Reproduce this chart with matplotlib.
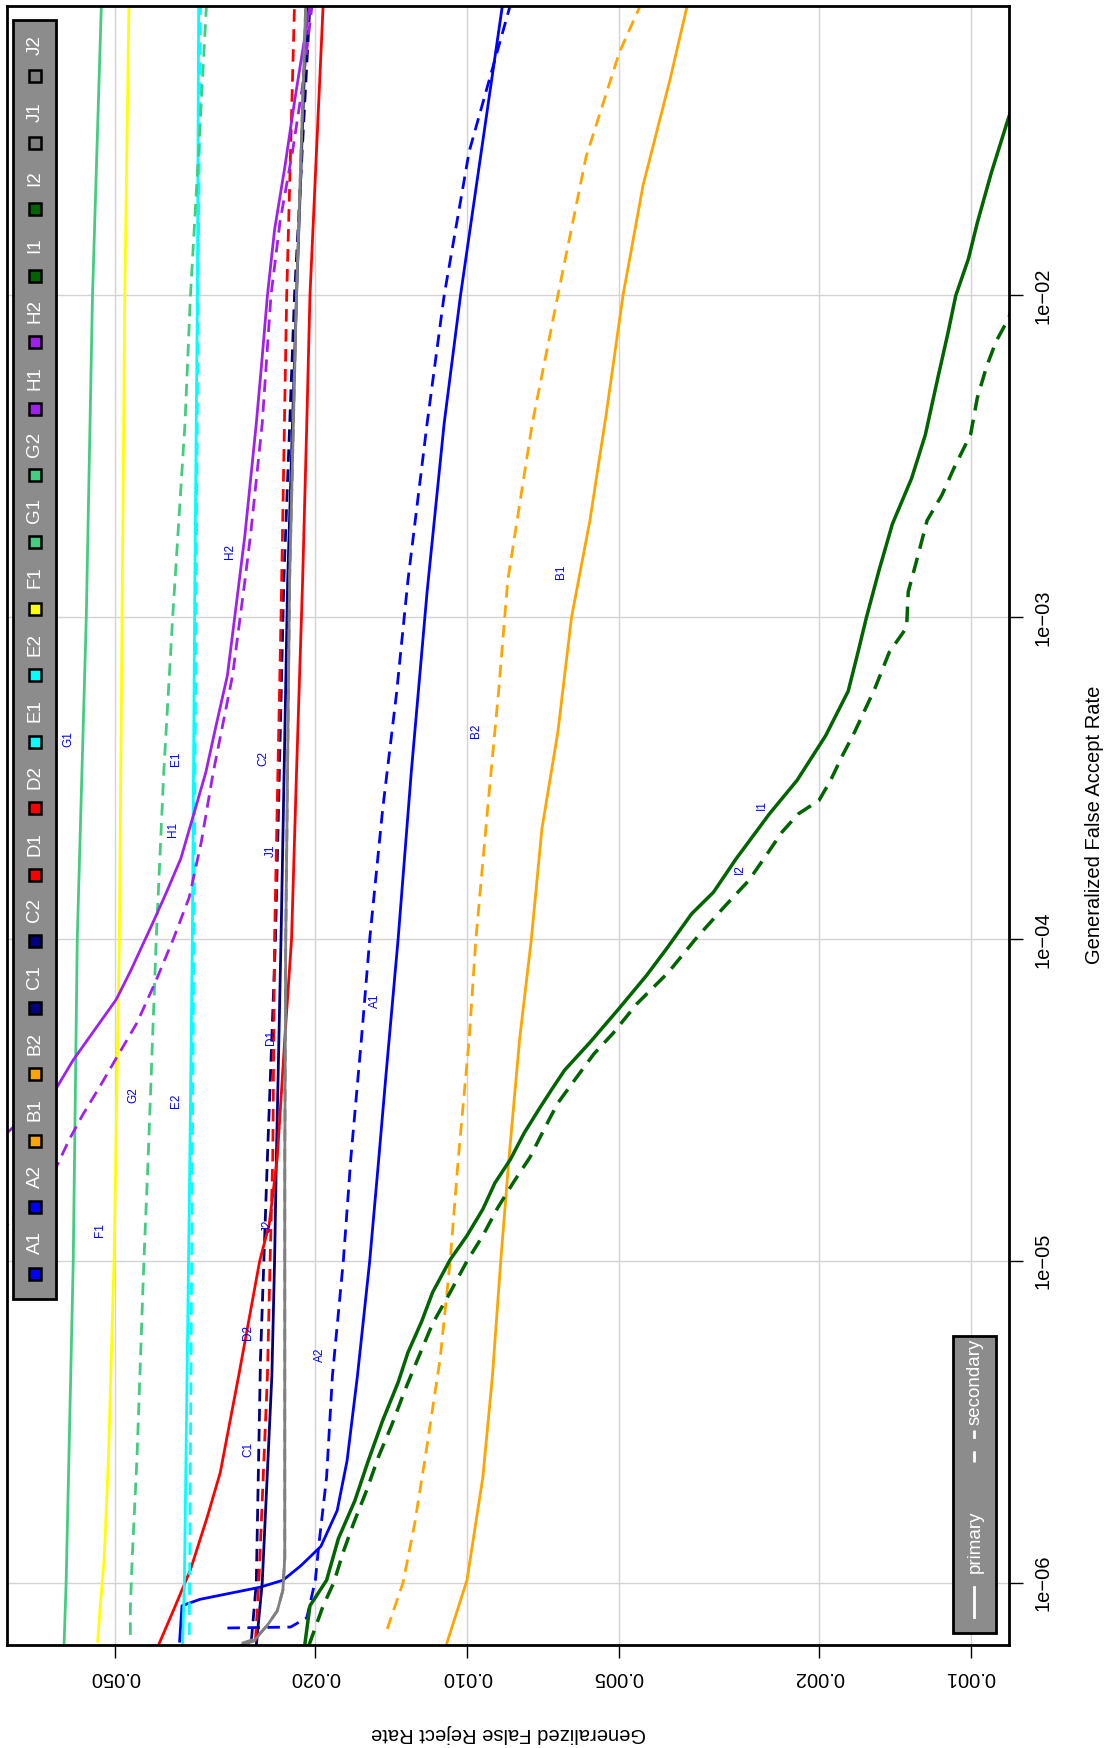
import matplotlib
matplotlib.use("Agg")
import matplotlib.pyplot as plt
from matplotlib.patches import Rectangle
from matplotlib.lines import Line2D
from matplotlib.ticker import NullLocator

plt.rcParams['font.family'] = ['Liberation Sans', 'DejaVu Sans']

# DET curves: false accept rate (far) vs false reject rate (frr)
a1_far = [6.6e-7, 8.5e-7, 8.9e-7, 9.7e-7, 1.02e-6, 1.13e-6, 1.3e-6, 1.68e-6, 2.4e-6, 4.4e-6, 1e-5, 2e-5, 3.7e-5, 1e-4, 3.3e-4, 1.2e-3, 4e-3, 1e-2, 0.08]
a1_frr = [0.0372, 0.0368, 0.0339, 0.0258, 0.0232, 0.0214, 0.0195, 0.0181, 0.0173, 0.0165, 0.0156, 0.0150, 0.0145, 0.0137, 0.0129, 0.0120, 0.0111, 0.0103, 0.0085]
a2_far = [7.25e-7, 7.3e-7, 7.8e-7, 1.02e-6, 1.3e-6, 2.13e-6, 4.4e-6, 1e-5, 2.1e-5, 4.9e-5, 1e-4, 2.54e-4, 5.8e-4, 1.3e-3, 4e-3, 1e-2, 0.028, 0.08]
a2_frr = [0.0299, 0.0224, 0.0208, 0.0200, 0.0197, 0.0190, 0.0185, 0.0176, 0.0170, 0.0162, 0.0156, 0.0147, 0.0138, 0.0131, 0.0120, 0.0111, 0.0099, 0.0082]
b1_far = [6.4e-7, 1.02e-6, 2.13e-6, 4.4e-6, 1e-5, 2.1e-5, 4.9e-5, 1e-4, 2.2e-4, 4.4e-4, 1e-3, 2e-3, 4.2e-3, 1e-2, 2.2e-2, 4.7e-2, 0.08]
b1_frr = [0.0110, 0.0100, 0.0093, 0.0089, 0.00857, 0.00825, 0.00786, 0.00745, 0.0071, 0.0066, 0.0062, 0.0057, 0.0053, 0.0049, 0.00447, 0.00395, 0.00365]
b2_far = [7.2e-7, 1e-6, 1.53e-6, 2.46e-6, 5e-6, 1e-5, 2.1e-5, 4.9e-5, 1e-4, 2.54e-4, 5.8e-4, 1.3e-3, 4e-3, 1e-2, 2.7e-2, 5.7e-2, 0.08]
b2_frr = [0.0144, 0.0134, 0.0127, 0.0121, 0.0113, 0.0108, 0.0104, 0.0099, 0.0096, 0.0091, 0.00866, 0.0083, 0.00742, 0.0066, 0.0058, 0.00498, 0.00452]
c1_far = [6.4e-7, 1e-6, 4.4e-6, 1e-5, 2.1e-5, 1e-4, 1.3e-3, 1e-2, 0.08]
c1_frr = [0.0262, 0.0255, 0.0244, 0.0241, 0.0239, 0.0234, 0.0227, 0.0218, 0.0208]
c2_far = [6.6e-7, 1e-6, 5e-6, 2.1e-5, 1e-4, 1.3e-3, 1e-2, 0.08]
c2_frr = [0.0268, 0.0262, 0.0257, 0.0249, 0.0240, 0.0231, 0.0220, 0.0205]
d1_far = [6.4e-7, 8.2e-7, 1.1e-6, 1.6e-6, 2.2e-6, 4.4e-6, 1e-5, 1.3e-5, 2.1e-5, 4.9e-5, 1e-4, 3.3e-4, 1.3e-3, 4e-3, 1e-2, 0.08]
d1_frr = [0.0410, 0.0383, 0.0354, 0.0328, 0.0309, 0.0284, 0.0258, 0.0247, 0.0238, 0.0230, 0.0223, 0.0218, 0.0212, 0.0208, 0.0205, 0.0193]
d2_far = [6.6e-7, 1e-6, 4.4e-6, 1e-5, 2.1e-5, 1e-4, 1e-3, 1e-2, 0.08]
d2_frr = [0.0263, 0.0259, 0.0249, 0.0246, 0.0243, 0.0241, 0.0234, 0.0228, 0.0220]
e1_far = [6.4e-7, 1e-6, 2.1e-5, 1e-4, 1.3e-3, 1e-2, 0.08]
e1_frr = [0.0367, 0.0364, 0.0355, 0.0351, 0.0347, 0.0343, 0.0341]
e2_far = [6.9e-7, 2.1e-5, 1e-3, 1e-2, 0.08]
e2_frr = [0.0356, 0.0351, 0.0345, 0.0342, 0.0338]
f1_far = [6.6e-7, 8.4e-7, 1.2e-6, 2.46e-6, 1e-5, 1e-4, 1e-3, 1e-2, 0.08]
f1_frr = [0.0541, 0.0535, 0.0525, 0.0515, 0.0502, 0.0490, 0.0484, 0.0478, 0.0469]
g1_far = [6.4e-7, 1e-6, 1e-5, 1e-4, 1e-3, 1e-2, 0.08]
g1_frr = [0.0631, 0.0625, 0.0605, 0.0594, 0.0570, 0.0554, 0.0532]
g2_far = [6.9e-7, 8.4e-7, 1.2e-6, 2.46e-6, 1e-5, 2e-5, 1e-4, 3.3e-4, 1e-3, 4e-3, 1e-2, 2.8e-2, 0.08]
g2_frr = [0.0466, 0.0466, 0.0462, 0.0452, 0.0438, 0.0430, 0.0414, 0.0400, 0.0384, 0.0363, 0.0354, 0.0341, 0.0329]
h1_far = [2.2e-5, 2.5e-5, 3.4e-5, 4.2e-5, 5e-5, 6.5e-5, 8e-5, 1.12e-4, 1.4e-4, 1.78e-4, 2.4e-4, 3.3e-4, 4.6e-4, 6.6e-4, 1.1e-3, 1.8e-3, 4e-3, 6e-3, 1e-2, 1.6e-2, 2.5e-2, 4e-2, 0.08]
h1_frr = [0.092, 0.082, 0.0657, 0.0606, 0.0560, 0.0497, 0.0465, 0.0421, 0.0395, 0.0370, 0.0350, 0.0330, 0.0315, 0.0299, 0.0287, 0.0276, 0.0262, 0.0256, 0.0249, 0.0241, 0.0230, 0.0220, 0.0205]
h2_far = [1.1e-5, 1.3e-5, 1.6e-5, 1.9e-5, 2.4e-5, 2.84e-5, 3.5e-5, 4.27e-5, 5.5e-5, 7.4e-5, 1e-4, 1.35e-4, 2e-4, 3.3e-4, 6.6e-4, 1.3e-3, 1.8e-3, 4e-3, 1e-2, 1.7e-2, 2.8e-2, 4.5e-2, 0.08]
h2_frr = [0.092, 0.0816, 0.0730, 0.0660, 0.0615, 0.0580, 0.0535, 0.0497, 0.0452, 0.0415, 0.0383, 0.0356, 0.0337, 0.0319, 0.0292, 0.0276, 0.0269, 0.0255, 0.0245, 0.0235, 0.0222, 0.0212, 0.0203]
i1_far = [6.4e-7, 8.5e-7, 1.02e-6, 1.375e-6, 1.8e-6, 2.4e-6, 3.2e-6, 4.2e-6, 5.2e-6, 6.5e-6, 8e-6, 1.01e-5, 1.2e-5, 1.45e-5, 1.75e-5, 2.07e-5, 2.5e-5, 2.96e-5, 3.4e-5, 3.92e-5, 4.78e-5, 6.07e-5, 7.72e-5, 9.42e-5, 1.2e-4, 1.4e-4, 1.78e-4, 2.1e-4, 2.45e-4, 3.12e-4, 4.29e-4, 5.9e-4, 7.6e-4, 1e-3, 1.4e-3, 1.95e-3, 2.7e-3, 3.69e-3, 5.6e-3, 7.6e-3, 1e-2, 1.3e-2, 1.68e-2, 2.4e-2, 3.58e-2, 0.08]
i1_frr = [0.0210, 0.0205, 0.0190, 0.0180, 0.0167, 0.0157, 0.0147, 0.0137, 0.0131, 0.0123, 0.0117, 0.0108, 0.0100, 0.0093, 0.0088, 0.0082, 0.0077, 0.0072, 0.0068, 0.0064, 0.0057, 0.0050, 0.0044, 0.0040, 0.00358, 0.00324, 0.00292, 0.0027, 0.00251, 0.00221, 0.00194, 0.00175, 0.00168, 0.00161, 0.00152, 0.00143, 0.00131, 0.00123, 0.00116, 0.00111, 0.00107, 0.00101, 0.00097, 0.00091, 0.00084, 0.00070]
i2_far = [6.4e-7, 8.5e-7, 1e-6, 1.25e-6, 1.53e-6, 1.95e-6, 2.46e-6, 3.1e-6, 3.95e-6, 5e-6, 6.4e-6, 8e-6, 1e-5, 1.2e-5, 1.46e-5, 1.75e-5, 2.1e-5, 2.6e-5, 3.1e-5, 3.8e-5, 4.4e-5, 5.1e-5, 6.3e-5, 7.9e-5, 1e-4, 1.25e-4, 1.52e-4, 1.8e-4, 2.15e-4, 2.45e-4, 2.7e-4, 3.1e-4, 3.7e-4, 4.4e-4, 6e-4, 7.8e-4, 9.3e-4, 1.2e-3, 1.5e-3, 2e-3, 2.4e-3, 2.9e-3, 3.7e-3, 4.8e-3, 6e-3, 7.2e-3, 8.5e-3, 0.02]
i2_frr = [0.0206, 0.0193, 0.0184, 0.0176, 0.0168, 0.0158, 0.0150, 0.0141, 0.0133, 0.0125, 0.0117, 0.0108, 0.0100, 0.0093, 0.0087, 0.0081, 0.0075, 0.0070, 0.0066, 0.0060, 0.0056, 0.00513, 0.0046, 0.00398, 0.00352, 0.0031, 0.00276, 0.00256, 0.00237, 0.0022, 0.0020, 0.0019, 0.0018, 0.0017, 0.00155, 0.00145, 0.00134, 0.00133, 0.00128, 0.00122, 0.00114, 0.00108, 0.0010, 0.00097, 0.00093, 0.00089, 0.00084, 0.0007]
j1_far = [6.4e-7, 6.6e-7, 7.4e-7, 8.2e-7, 9.5e-7, 1.2e-6, 2.1e-5, 1e-4, 1.3e-3, 1e-2, 0.08]
j1_frr = [0.0282, 0.0265, 0.0249, 0.0238, 0.0232, 0.0230, 0.0230, 0.0229, 0.0225, 0.0218, 0.0209]
j2_far = [6.5e-7, 6.7e-7, 7.4e-7, 8.2e-7, 9.5e-7, 1.2e-6, 2.1e-5, 1e-4, 1.3e-3, 1e-2, 0.08]
j2_frr = [0.0280, 0.0264, 0.0249, 0.0238, 0.0232, 0.0230, 0.0230, 0.0229, 0.0225, 0.0218, 0.0209]

names = ['A1', 'A2', 'B1', 'B2', 'C1', 'C2', 'D1', 'D2', 'E1', 'E2', 'F1',
         'G1', 'G2', 'H1', 'H2', 'I1', 'I2', 'J1', 'J2']
curves = [(a1_far, a1_frr), (a2_far, a2_frr), (b1_far, b1_frr), (b2_far, b2_frr),
          (c1_far, c1_frr), (c2_far, c2_frr), (d1_far, d1_frr), (d2_far, d2_frr),
          (e1_far, e1_frr), (e2_far, e2_frr), (f1_far, f1_frr), (g1_far, g1_frr),
          (g2_far, g2_frr), (h1_far, h1_frr), (h2_far, h2_frr), (i1_far, i1_frr),
          (i2_far, i2_frr), (j1_far, j1_frr), (j2_far, j2_frr)]
group_colors = {'A': '#0000FF', 'B': '#FFA500', 'C': '#000080', 'D': '#FF0000',
                'E': '#00FFFF', 'F': '#FFFF00', 'G': '#43CD80', 'H': '#A020F0',
                'I': '#006400', 'J': '#808080'}

# where each curve name is written next to its line
label_frr = [0.0152, 0.0196, 0.00651, 0.0096, 0.0272, 0.0254, 0.0245, 0.0272, 0.0378, 0.0378,
             0.0536, 0.0618, 0.0459, 0.0384, 0.0295, 0.0026, 0.00287, 0.0245, 0.0249]
label_far = [6.45e-5, 5.1e-6, 1.39e-3, 4.45e-4, 2.6e-6, 3.65e-4, 4.96e-5, 6.0e-6, 3.65e-4, 3.15e-5,
             1.25e-5, 4.2e-4, 3.27e-5, 2.2e-4, 1.6e-3, 2.61e-4, 1.65e-4, 1.89e-4, 1.29e-5]

frr_ticks = [0.05, 0.02, 0.01, 0.005, 0.002, 0.001]
frr_tick_labels = ['0.050', '0.020', '0.010', '0.005', '0.002', '0.001']
far_ticks = [1e-6, 1e-5, 1e-4, 1e-3, 1e-2]
far_tick_labels = ['1e\u221206', '1e\u221205', '1e\u221204', '1e\u221203', '1e\u221202']

W, H = 1107, 1748


def fx(x):
    return x / W


def fy(y):
    return 1 - y / H


fig = plt.figure(figsize=(W / 100, H / 100), dpi=100)
ax = fig.add_axes([fx(7), fy(1645), (1009 - 7) / W, (1645 - 6) / H])
ax.set_xscale('log')
ax.set_yscale('log')
ax.set_xlim(0.0819, 0.000839)
ax.set_ylim(6.42e-7, 0.0793)

ax.set_xticks(frr_ticks, frr_tick_labels)
ax.set_yticks(far_ticks, far_tick_labels)
ax.xaxis.set_minor_locator(NullLocator())
ax.yaxis.set_minor_locator(NullLocator())
ax.grid(True, color='#D3D3D3', lw=1)
ax.set_axisbelow(True)
for s in ax.spines.values():
    s.set_linewidth(2)

ax.tick_params(axis='x', direction='out', length=9.5, width=1, pad=7,
               labelsize=14.5, labelrotation=180)
ax.tick_params(axis='y', direction='out', length=10, width=1, pad=8,
               labelsize=14.5, labelrotation=90, left=False, right=True,
               labelleft=False, labelright=True)
for t in ax.yaxis.get_major_ticks():
    t.label2.set_verticalalignment('center')

for name, (far, frr) in zip(names, curves):
    col = group_colors[name[0]]
    lw = 2.5 if name[0] == 'I' else 2.0
    if name.endswith('2'):
        ax.plot(frr, far, color=col, lw=lw, ls=(0, (4.5, 2.7)))
    else:
        ax.plot(frr, far, color=col, lw=lw)

for name, lx, ly in zip(names, label_frr, label_far):
    ax.text(lx, ly, name, color='blue', fontsize=8.5, rotation=90,
            ha='center', va='center')

fig.text(fx(508), fy(1734), 'Generalized False Reject Rate', rotation=180,
         ha='center', va='center', fontsize=14.5)
fig.text(fx(1094), fy(825), 'Generalized False Accept Rate', rotation=90,
         ha='center', va='center', fontsize=14.5)

# series legend along the left edge
fig.add_artist(Rectangle((fx(13.4), fy(1299)), (55.7 - 13.4) / W, (1299 - 20) / H,
                         transform=fig.transFigure, facecolor='#8C8C8C',
                         edgecolor='black', lw=2, zorder=5))
for k, name in enumerate(names):
    my = 1274 - k * 66.55
    fig.add_artist(Line2D([fx(35)], [fy(my)], marker='s', ms=8, mew=1.8,
                          mfc=group_colors[name[0]], mec='black',
                          transform=fig.transFigure, zorder=6))
    fig.text(fx(35), fy(my - 31), name, color='white', fontsize=13.5, rotation=90,
             ha='center', va='center', zorder=6)

# line style legend in the lower right corner
fig.add_artist(Rectangle((fx(953), fy(1633)), (995.5 - 953) / W, (1633 - 1335.6) / H,
                         transform=fig.transFigure, facecolor='#8C8C8C',
                         edgecolor='black', lw=2, zorder=5))
fig.add_artist(Line2D([fx(974), fx(974)], [fy(1617), fy(1587)], color='white', lw=2,
                      transform=fig.transFigure, zorder=6))
fig.text(fx(975), fy(1542), 'primary', color='white', fontsize=13.5, rotation=90,
         ha='center', va='center', zorder=6)
fig.add_artist(Line2D([fx(974), fx(974)], [fy(1462), fy(1430)], color='white', lw=2,
                      ls=(0, (4, 4.5)), transform=fig.transFigure, zorder=6))
fig.text(fx(975), fy(1382), 'secondary', color='white', fontsize=13.5, rotation=90,
         ha='center', va='center', zorder=6)

fig.savefig('out.png', dpi=100)
